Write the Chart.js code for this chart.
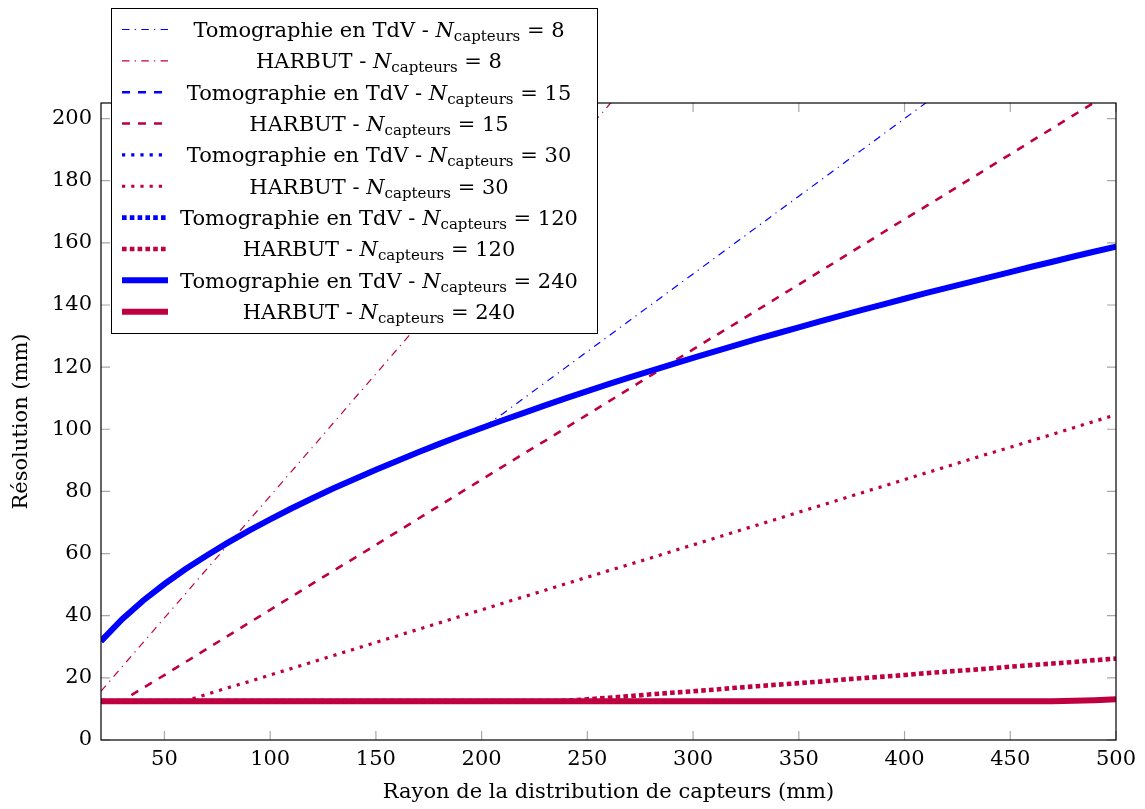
<!DOCTYPE html>
<html><head><meta charset="utf-8">
<script src="https://cdn.jsdelivr.net/npm/chart.js@4.4.0/dist/chart.umd.min.js"></script>
<style>html,body{margin:0;padding:0;background:#fff;}canvas{display:block;}</style>
</head><body>
<canvas id="c" width="1145" height="809"></canvas>
<script>
// ---------- data ----------
const rayon = [20,30,40,50,60,70,80,90,100,110,120,130,140,150,160,170,180,190,200,210,220,230,240,250,260,270,280,290,300,310,320,330,340,350,360,370,380,390,400,410,420,430,440,450,460,470,480,490,500];
const xTicks = [50,100,150,200,250,300,350,400,450,500];
const yTicks = [0,20,40,60,80,100,120,140,160,180,200];

const tomo8 = [31.8,38.9,44.9,50.2,55.0,59.4,63.5,67.4,71.0,74.5,77.8,81.0,84.0,87.0,89.8,92.6,95.3,97.9,100.4,105,110,115,120,125,130,135,140,145,150,155,160,165,170,175,180,185,190,195,200,205,210,null,null,null,null,null,null,null,null];
const harbut8 = [15.7,23.6,31.4,39.3,47.1,55.0,62.8,70.7,78.5,86.4,94.2,102.1,110.0,117.8,125.7,133.5,141.4,149.2,157.1,164.9,172.8,180.6,188.5,196.3,204.2,212.1,null,null,null,null,null,null,null,null,null,null,null,null,null,null,null,null,null,null,null,null,null,null,null];
const tomo15 = [31.8,38.9,44.9,50.2,55.0,59.4,63.5,67.4,71.0,74.5,77.8,81.0,84.0,87.0,89.8,92.6,95.3,97.9,100.4,102.9,105.3,107.7,110.0,112.3,114.5,116.7,118.8,120.9,123.0,125.0,127.0,129.0,130.9,132.8,134.7,136.6,138.4,140.2,142.0,143.8,145.5,147.2,148.9,150.6,152.3,153.9,155.6,157.2,158.8];
const harbut15 = [12.5,12.6,16.8,20.9,25.1,29.3,33.5,37.7,41.9,46.1,50.3,54.5,58.6,62.8,67.0,71.2,75.4,79.6,83.8,88.0,92.2,96.3,100.5,104.7,108.9,113.1,117.3,121.5,125.7,129.9,134.0,138.2,142.4,146.6,150.8,155.0,159.2,163.4,167.6,171.7,175.9,180.1,184.3,188.5,192.7,196.9,201.1,205.3,209.4];
const tomo30 = [31.8,38.9,44.9,50.2,55.0,59.4,63.5,67.4,71.0,74.5,77.8,81.0,84.0,87.0,89.8,92.6,95.3,97.9,100.4,102.9,105.3,107.7,110.0,112.3,114.5,116.7,118.8,120.9,123.0,125.0,127.0,129.0,130.9,132.8,134.7,136.6,138.4,140.2,142.0,143.8,145.5,147.2,148.9,150.6,152.3,153.9,155.6,157.2,158.8];
const harbut30 = [12.5,12.5,12.5,12.5,12.6,14.7,16.8,18.8,20.9,23.0,25.1,27.2,29.3,31.4,33.5,35.6,37.7,39.8,41.9,44.0,46.1,48.2,50.3,52.4,54.5,56.5,58.6,60.7,62.8,64.9,67.0,69.1,71.2,73.3,75.4,77.5,79.6,81.7,83.8,85.9,88.0,90.1,92.2,94.2,96.3,98.4,100.5,102.6,104.7];
const tomo120 = [31.8,38.9,44.9,50.2,55.0,59.4,63.5,67.4,71.0,74.5,77.8,81.0,84.0,87.0,89.8,92.6,95.3,97.9,100.4,102.9,105.3,107.7,110.0,112.3,114.5,116.7,118.8,120.9,123.0,125.0,127.0,129.0,130.9,132.8,134.7,136.6,138.4,140.2,142.0,143.8,145.5,147.2,148.9,150.6,152.3,153.9,155.6,157.2,158.8];
const harbut120 = [12.5,12.5,12.5,12.5,12.5,12.5,12.5,12.5,12.5,12.5,12.5,12.5,12.5,12.5,12.5,12.5,12.5,12.5,12.5,12.5,12.5,12.5,12.6,13.1,13.6,14.1,14.7,15.2,15.7,16.2,16.8,17.3,17.8,18.3,18.8,19.4,19.9,20.4,20.9,21.5,22.0,22.5,23.0,23.6,24.1,24.6,25.1,25.7,26.2];
const tomo240 = [31.8,38.9,44.9,50.2,55.0,59.4,63.5,67.4,71.0,74.5,77.8,81.0,84.0,87.0,89.8,92.6,95.3,97.9,100.4,102.9,105.3,107.7,110.0,112.3,114.5,116.7,118.8,120.9,123.0,125.0,127.0,129.0,130.9,132.8,134.7,136.6,138.4,140.2,142.0,143.8,145.5,147.2,148.9,150.6,152.3,153.9,155.6,157.2,158.8];
const harbut240 = [12.5,12.5,12.5,12.5,12.5,12.5,12.5,12.5,12.5,12.5,12.5,12.5,12.5,12.5,12.5,12.5,12.5,12.5,12.5,12.5,12.5,12.5,12.5,12.5,12.5,12.5,12.5,12.5,12.5,12.5,12.5,12.5,12.5,12.5,12.5,12.5,12.5,12.5,12.5,12.5,12.5,12.5,12.5,12.5,12.5,12.5,12.6,12.8,13.1];

const legendNames = ['Tomographie en TdV','HARBUT','Tomographie en TdV','HARBUT','Tomographie en TdV','HARBUT','Tomographie en TdV','HARBUT','Tomographie en TdV','HARBUT'];
const nCapteurs = ['8','8','15','15','30','30','120','120','240','240'];
const xTitle = 'Rayon de la distribution de capteurs (mm)';
const yTitle = 'Résolution (mm)';

// ---------- styles ----------
const BLUE = '#0000ff', PURPLE = '#bf0040';
const FAM = '"DejaVu Serif", serif';
const FS = 21;
const series = [tomo8, harbut8, tomo15, harbut15, tomo30, harbut30, tomo120, harbut120, tomo240, harbut240];
const styles = [
  {c: BLUE,   w: 1.2, d: [7.5, 5.3, 1.2, 5.3]},
  {c: PURPLE, w: 1.2, d: [7.5, 5.3, 1.2, 5.3]},
  {c: BLUE,   w: 2.6, d: [8, 8]},
  {c: PURPLE, w: 2.6, d: [8, 8]},
  {c: BLUE,   w: 3.2, d: [3.2, 6]},
  {c: PURPLE, w: 3.2, d: [3.2, 6]},
  {c: BLUE,   w: 4.6, d: [4.6, 3.2]},
  {c: PURPLE, w: 4.6, d: [4.6, 3.2]},
  {c: BLUE,   w: 6,   d: []},
  {c: PURPLE, w: 6,   d: []}
];

const datasets = series.map((s, i) => ({
  label: legendNames[i] + ' - N capteurs = ' + nCapteurs[i],
  data: rayon.map((r, k) => ({x: r, y: s[k]})),
  borderColor: styles[i].c,
  backgroundColor: styles[i].c,
  borderWidth: styles[i].w,
  borderDash: styles[i].d,
  borderCapStyle: 'butt',
  pointRadius: 0,
  tension: 0,
  fill: false,
  spanGaps: false,
  clip: 0,
  order: 10 - i
}));

const frameTicks = {
  id: 'frameTicks',
  afterDatasetsDraw(chart) {
    const {ctx, chartArea: a, scales: {x, y}} = chart;
    ctx.save();
    ctx.strokeStyle = '#a8a8a8';
    ctx.lineWidth = 1.2;
    const L = 9;
    ctx.beginPath();
    x.ticks.forEach(t => {
      const px = x.getPixelForValue(t.value);
      ctx.moveTo(px, a.bottom); ctx.lineTo(px, a.bottom - L);
      ctx.moveTo(px, a.top); ctx.lineTo(px, a.top + L);
    });
    y.ticks.forEach(t => {
      const py = y.getPixelForValue(t.value);
      ctx.moveTo(a.left, py); ctx.lineTo(a.left + L, py);
      ctx.moveTo(a.right, py); ctx.lineTo(a.right - L, py);
    });
    ctx.stroke();
    ctx.strokeStyle = '#000';
    ctx.lineWidth = 1.2;
    ctx.strokeRect(a.left, a.top, a.right - a.left, a.bottom - a.top);
    ctx.restore();
  }
};

const customLegend = {
  id: 'customLegend',
  afterDraw(chart) {
    const ctx = chart.ctx;
    ctx.save();
    const bx = 111, by = 8, bw = 486, bh = 325;
    ctx.fillStyle = '#fff';
    ctx.fillRect(bx, by, bw, bh);
    ctx.strokeStyle = '#000';
    ctx.lineWidth = 1;
    ctx.strokeRect(bx + 0.5, by + 0.5, bw, bh);
    const fMain = FS + 'px ' + FAM;
    const fIt = 'italic ' + FS + 'px ' + FAM;
    const fSub = '15px ' + FAM;
    for (let i = 0; i < series.length; i++) {
      const cy = 29.5 + i * 31.35;
      const st = styles[i];
      ctx.beginPath();
      ctx.setLineDash(st.d);
      ctx.lineDashOffset = 0;
      ctx.lineCap = 'butt';
      ctx.lineWidth = st.w;
      ctx.strokeStyle = st.c;
      ctx.moveTo(122, cy); ctx.lineTo(168, cy);
      ctx.stroke();
      ctx.setLineDash([]);
      const parts = [
        {t: legendNames[i] + ' - ', f: fMain, dy: 0},
        {t: 'N', f: fIt, dy: 0},
        {t: 'capteurs', f: fSub, dy: 4},
        {t: ' = ' + nCapteurs[i], f: fMain, dy: 0}
      ];
      let total = 0;
      parts.forEach(p => { ctx.font = p.f; p.w = ctx.measureText(p.t).width; total += p.w; });
      let xx = 379 - total / 2;
      const base = cy + 7.5;
      ctx.fillStyle = '#000';
      ctx.textBaseline = 'alphabetic';
      ctx.textAlign = 'left';
      parts.forEach(p => { ctx.font = p.f; ctx.fillText(p.t, xx, base + p.dy); xx += p.w; });
    }
    ctx.restore();
  }
};

new Chart(document.getElementById('c'), {
  type: 'line',
  data: {datasets},
  options: {
    responsive: false,
    animation: false,
    devicePixelRatio: 1,
    layout: {padding: {top: 103, right: 29, left: 0, bottom: 0}},
    plugins: {legend: {display: false}, tooltip: {enabled: false}},
    scales: {
      x: {
        type: 'linear', min: 20, max: 500,
        afterBuildTicks: s => { s.ticks = xTicks.map(v => ({value: v})); },
        afterFit: s => { s.height = 69; },
        grid: {display: false, drawTicks: false},
        border: {display: false},
        ticks: {color: '#000', font: {family: FAM, size: FS}, padding: 7, maxRotation: 0, autoSkip: false},
        title: {display: true, text: xTitle, color: '#000', font: {family: FAM, size: FS}, padding: {top: 0, bottom: 4}}
      },
      y: {
        type: 'linear', min: 0, max: 205,
        afterBuildTicks: s => { s.ticks = yTicks.map(v => ({value: v})); },
        afterFit: s => { s.width = 101; },
        grid: {display: false, drawTicks: false},
        border: {display: false},
        ticks: {color: '#000', font: {family: FAM, size: FS}, padding: 9, autoSkip: false},
        title: {display: true, text: yTitle, color: '#000', font: {family: FAM, size: FS}, padding: {top: 9, bottom: 0}}
      }
    }
  },
  plugins: [frameTicks, customLegend]
});
</script>
</body></html>
